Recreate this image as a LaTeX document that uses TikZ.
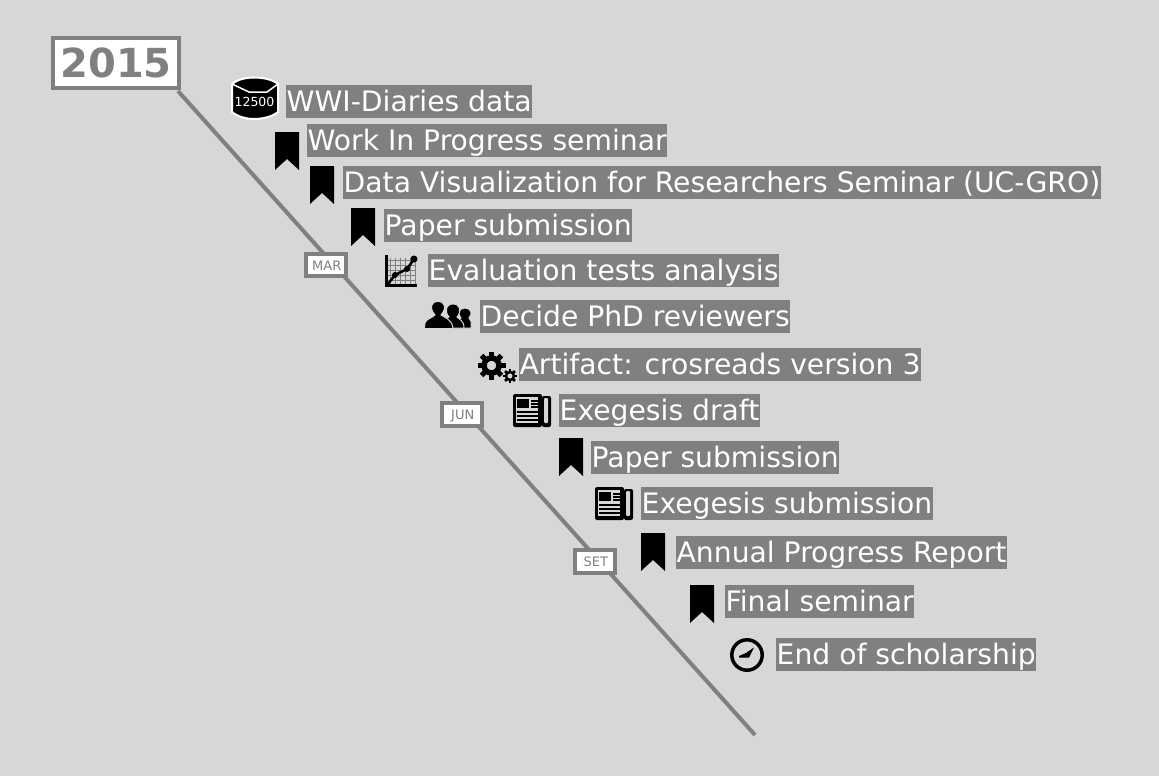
\documentclass[tikz,border=0pt]{standalone}
\usepackage{fontspec}
\setmainfont{DejaVu Sans}
\usetikzlibrary{backgrounds}
\definecolor{canvas}{HTML}{D7D7D7}
\definecolor{lineGray}{HTML}{808080}
\tikzset{
	event/.style={anchor=north west,fill=lineGray,text=white,inner ysep=0pt,inner xsep=0.5pt,text height=26.5pt,text depth=6.5pt,font=\fontsize{28.2}{28.2}\selectfont},
	month/.style={draw=lineGray,line width=4pt,fill=white,text=lineGray,inner sep=0pt,minimum width=40pt,minimum height=22.5pt,text height=10pt,text depth=0pt,execute at begin node={\hspace{1.5pt}},font=\fontsize{13}{13}\selectfont},
	year/.style={draw=lineGray,line width=4pt,fill=white,text=lineGray,inner sep=0pt,minimum width=126pt,minimum height=50pt,font=\fontsize{40}{40}\selectfont\bfseries},
	flag/.pic={
		\fill[black] (0,0)--(24,0)--(24,38)--(12,27)--(0,38)--cycle;
	},
	paper/.pic={
		\fill[black,rounded corners=2pt] (0,0) rectangle (29,33);
		\fill[canvas] (3,3) rectangle (25,29);
		\fill[black] (4,5) rectangle (16,14);
		\foreach \y in {7,10,13} \draw[black,line width=1.5pt] (18,\y)--(25,\y);
		\foreach \y in {18,22,26} \draw[black,line width=1.5pt] (4,\y)--(25,\y);
		\fill[black,rounded corners=2pt] (29,2) rectangle (38,33);
		\fill[canvas,rounded corners=1pt] (31,4) rectangle (35,29);
	}
}
\begin{document}
\begin{tikzpicture}[x=1pt,y=-1pt]
	\useasboundingbox (0,0) rectangle (1159,776);

	\node[year] (y2015) at (116,63) {2015};
	\coordinate (lineEnd) at (755,735);

	\node[month] (mar) at (326,265) {MAR};
	\node[month] (jun) at (462,414.5) {JUN};
	\node[month] (set) at (595,561.5) {SET};

	\begin{pgfonlayer}{background}
		\fill[canvas] (0,0) rectangle (1159,776);
		\draw[lineGray,line width=4pt] ([xshift=-3pt,yshift=-1pt]y2015.south east)--(lineEnd);
	\end{pgfonlayer}

	\node[event] (diaries) at (286,85) {WWI-Diaries data};
	\node[event] (wip) at (307,124) {Work In Progress seminar};
	\node[event] (dataviz) at (343,166) {Data Visualization for Researchers Seminar (UC-GRO)};
	\node[event] (paperA) at (384,209) {Paper submission};
	\node[event] (tests) at (428,254) {Evaluation tests analysis};
	\node[event] (reviewers) at (480,300) {Decide PhD reviewers};
	\node[event] (artifact) at (519,348) {Artifact: crosreads version 3};
	\node[event] (draft) at (559,394) {Exegesis draft};
	\node[event] (paperB) at (591,441) {Paper submission};
	\node[event] (exegesis) at (641,487) {Exegesis submission};
	\node[event] (report) at (676,536) {Annual Progress Report};
	\node[event] (final) at (725,585) {Final seminar};
	\node[event] (end) at (776,638) {End of scholarship};

	% database
	\draw[fill=black,draw=white,line width=2pt] (232,84) .. controls (238,79) and (247,77.5) .. (254,77.5) .. controls (262,77.5) and (272,79) .. (278,84)--(278,112) .. controls (272,117) and (262,119) .. (254,119) .. controls (247,119) and (238,117) .. (232,112)--cycle;
	\draw[white,line width=1.5pt] (232,84)--(249,92)--(267,92)--(278,84);
	\node[text=white,inner sep=0pt,font=\fontsize{12.5}{12.5}\selectfont] (dbcount) at (254.5,102) {12500};

	% bookmarks
	\pic at (275,132) {flag};
	\pic at (310,166) {flag};
	\pic at (351,208) {flag};
	\pic at (559,438) {flag};
	\pic at (641,533) {flag};
	\pic at (690,585) {flag};

	% chart
	\draw[lineGray,line width=1pt,step=5pt] (388,258) grid (416,284);
	\draw[black,line width=2.5pt] (386.5,255)--(386.5,285.5)--(417,285.5);
	\draw[black,line width=2.5pt] (388,284)--(395,275)--(407,269)--(414,259);
	\fill[black] (395,275) circle (3) (407,269) circle (3) (414,259) circle (3.5);

	% people
	\begin{scope}
		\fill[black,draw=canvas,line width=1pt] (451,328)--(451,324) .. controls (452,321) and (458,320) .. (461,318) .. controls (457,314) and (459,308) .. (465,308) .. controls (471,308) and (473,314) .. (469,318) .. controls (472,320) and (471,322) .. (471,328)--cycle;
		\fill[black,draw=canvas,line width=1pt] (437,328)--(438,323) .. controls (440,320) and (446,319) .. (449,317) .. controls (444,311) and (446,304) .. (453,304) .. controls (460,304) and (462,311) .. (457,317) .. controls (460,320) and (464,321) .. (464,328)--cycle;
		\fill[black,draw=canvas,line width=1pt] (424.5,328.5)--(425,323) .. controls (426,319) and (432,318) .. (435,315) .. controls (429,308) and (431,301.5) .. (438,301.5) .. controls (445,301.5) and (447,308) .. (441,315) .. controls (445,318) and (452,319) .. (453,328.5)--cycle;
	\end{scope}

	% gears
	\foreach \a in {0,45,...,315}
		\draw[black,line width=5pt] (491.5,365.5)++(\a:9)--++(\a:5);
	\draw[black,line width=5.5pt] (491.5,365.5) circle (7.5);
	\foreach \a in {0,45,...,315}
		\draw[black,line width=2.5pt] (510,376)++(\a:4)--++(\a:3);
	\draw[black,line width=2.5pt] (510,376) circle (4);

	% newspapers
	\pic at (513,394) {paper};
	\pic at (595,487) {paper};

	% clock
	\draw[black,line width=3.5pt] (747,655) circle (15.2);
	\fill[black] (754,647.5)--(749,657.5)--(739,657.5)--(739,656)--(746,653)--cycle;
\end{tikzpicture}
\end{document}
